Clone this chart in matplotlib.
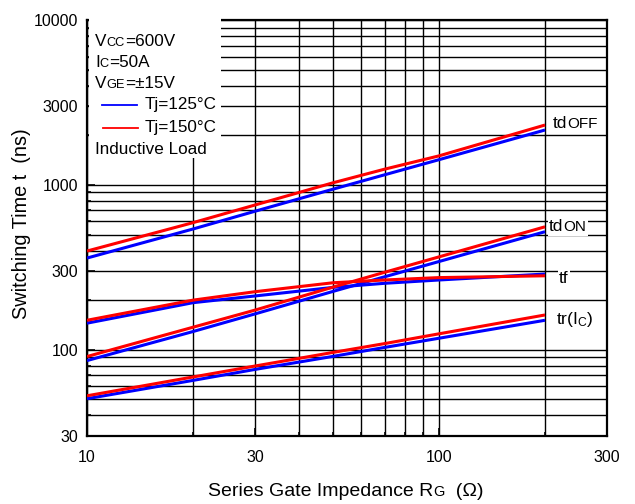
import matplotlib
matplotlib.use("Agg")
import matplotlib.pyplot as plt
from matplotlib.lines import Line2D
from matplotlib.patches import Rectangle
from matplotlib.offsetbox import (TextArea, HPacker, VPacker, DrawingArea,
                                  AnchoredOffsetbox, AnnotationBbox)
from matplotlib.ticker import FixedLocator, FixedFormatter, LogLocator, NullFormatter

plt.rcParams["font.family"] = ["Liberation Sans", "DejaVu Sans"]
plt.rcParams["mathtext.fontset"] = "custom"
plt.rcParams["mathtext.rm"] = "Liberation Sans"
plt.rcParams["mathtext.it"] = "Liberation Sans"

# series gate resistance (ohm) and switching times (ns)
rg = [10, 20, 30, 50, 70, 100, 200]
tdoff_125 = [360, 540, 692, 942, 1151, 1422, 2152]
tdoff_150 = [397, 590, 755, 1030, 1245, 1500, 2307]
tdon_125 = [86, 129, 165, 226, 277, 343, 520]
tdon_150 = [91, 137, 174, 240, 295, 366, 557]
tf_125 = [145, 193, 212, 239, 253, 265, 288]
tf_150 = [151, 200, 225, 255, 265, 274, 281]
tr_125 = [50.5, 65.2, 76, 91.2, 103.3, 117.5, 151]
tr_150 = [52.6, 68.4, 79.7, 96.4, 109, 125, 162.6]

x_ticks = [10, 30, 100, 300]
y_ticks = [30, 100, 300, 1000, 3000, 10000]

conditions = [("V", "CC", "=600V"), ("I", "C", "=50A"), ("V", "GE", "=±15V")]
temp_labels = ["Tj=125°C", "Tj=150°C"]
note = "Inductive Load"

BLUE = "#0000ff"
RED = "#ff0000"
BIG = 12.3
SMALL = 9.2


def mixed(big, small, rest, size=BIG, small_size=SMALL, sep=0):
    parts = [TextArea(big, textprops=dict(size=size))]
    if small:
        parts.append(TextArea(small, textprops=dict(size=small_size)))
    if rest:
        parts.append(TextArea(rest, textprops=dict(size=size)))
    return HPacker(children=parts, align="baseline", pad=0, sep=sep)


fig = plt.figure(figsize=(6.35, 5.04), dpi=100)
ax = fig.add_axes([87 / 635, 1 - 436 / 504, 520 / 635, 416 / 504])

for lo, hi in [(tdoff_125, tdoff_150), (tdon_125, tdon_150),
               (tf_125, tf_150), (tr_125, tr_150)]:
    ax.plot(rg, lo, color=BLUE, lw=2.2, zorder=3, solid_capstyle="butt")
    ax.plot(rg, hi, color=RED, lw=2.2, zorder=3.1, solid_capstyle="butt")

ax.set_xscale("log")
ax.set_yscale("log")
ax.set_xlim(10, 300)
ax.set_ylim(30, 10000)
ax.xaxis.set_major_locator(FixedLocator(x_ticks))
ax.yaxis.set_major_locator(FixedLocator(y_ticks))
ax.xaxis.set_major_formatter(FixedFormatter([str(v) for v in x_ticks]))
ax.yaxis.set_major_formatter(FixedFormatter([str(v) for v in y_ticks]))
ax.xaxis.set_minor_locator(LogLocator(base=10, subs=range(2, 10)))
ax.yaxis.set_minor_locator(LogLocator(base=10, subs=range(2, 10)))
ax.xaxis.set_minor_formatter(NullFormatter())
ax.yaxis.set_minor_formatter(NullFormatter())
ax.grid(True, which="both", color="black", lw=1.0)
ax.tick_params(which="both", direction="in", color="black", labelsize=11.5)
ax.tick_params(which="major", length=6, width=1.2)
ax.tick_params(which="minor", length=3, width=1.2)
ax.tick_params(axis="x", pad=10)
ax.tick_params(axis="y", pad=6.5)
for sp in ax.spines.values():
    sp.set_linewidth(1.6)

# white panel holding the test conditions and legend
ax.add_patch(Rectangle((0.004, 0.668), 0.254, 0.345, transform=ax.transAxes,
                       facecolor="white", edgecolor="none", zorder=3.5,
                       clip_on=False))
rows = [mixed(*c) for c in conditions]
for lab, col, x0 in zip(temp_labels, [BLUE, RED], [4.9, 5.8]):
    da = DrawingArea(36, 12, 0, 0)
    da.add_artist(Line2D([x0, x0 + 25.5], [6, 6], color=col, lw=1.3))
    rows.append(HPacker(children=[da, TextArea(lab, textprops=dict(size=BIG))],
                        align="center", pad=0, sep=0))
rows.append(TextArea(note, textprops=dict(size=BIG)))
box = VPacker(children=rows, align="left", pad=0, sep=4.3)
anch = AnchoredOffsetbox(loc="upper left", child=box, pad=0, borderpad=0,
                         frameon=False, bbox_to_anchor=(0.0154, 0.967),
                         bbox_transform=ax.transAxes)
anch.set_zorder(4)
ax.add_artist(anch)

# curve labels at the right end
end_labels = [
    (mixed("td", "OFF", "", size=12.5, small_size=11), tdoff_150[-1], (5.8, 1.4)),
    (mixed("td", "ON", "", size=12.5, small_size=11), tdon_150[-1], (2.9, 0)),
    (TextArea("tf", textprops=dict(size=12.5)), tf_150[-1], (10, -1.7)),
    (TextArea(r"tr(I$_{\mathregular{C}}$)", textprops=dict(size=12.5)), tr_150[-1], (8, -3.6)),
]
for child, yv, off in end_labels:
    ab = AnnotationBbox(child, (rg[-1], yv), xybox=off, xycoords="data",
                        boxcoords="offset points", box_alignment=(0, 0.5),
                        frameon=True, pad=0.1,
                        bboxprops=dict(facecolor="white", edgecolor="none"))
    ab.set_zorder(4)
    ax.add_artist(ab)

xlab = mixed("Series Gate Impedance R", "G", "  (Ω)", size=14, small_size=10.5)
fig.add_artist(AnnotationBbox(xlab, (346 / 635, 1 - 492 / 504),
                              xycoords="figure fraction", frameon=False,
                              box_alignment=(0.5, 0.5)))
fig.text(22 / 635, 1 - 224 / 504, "Switching Time t  (ns)", rotation=90,
         ha="center", va="center", fontsize=14.3)

fig.savefig("out.png", dpi=100)
